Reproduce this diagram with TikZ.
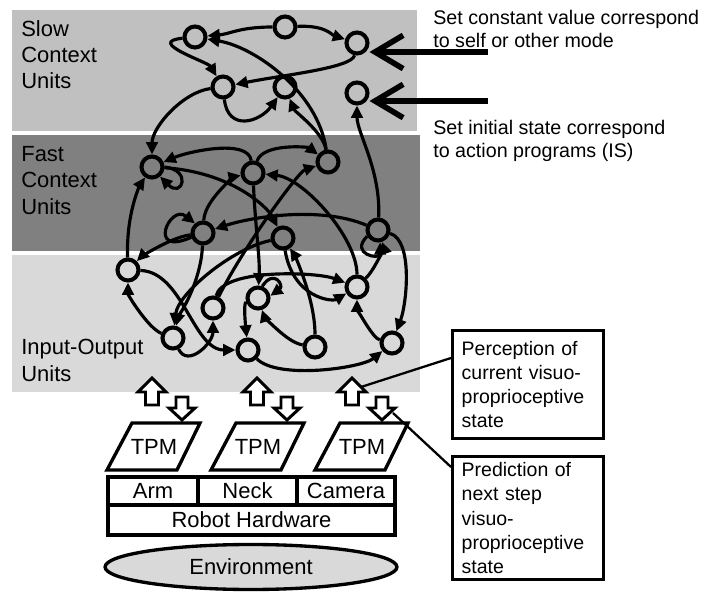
\documentclass[tikz,border=0pt]{standalone}
\usepackage{fontspec}
\setmainfont{Liberation Sans}
\usetikzlibrary{arrows.meta,shapes.geometric,calc}

\definecolor{slowgray}{HTML}{C0C0C0}
\definecolor{fastgray}{HTML}{808080}
\definecolor{iogray}{HTML}{D9D9D9}

\tikzset{
  unit/.style={circle,draw,line width=2.3pt,minimum size=0.42cm,inner sep=0pt},
  link/.style={line width=1.8pt,-{Triangle[length=7pt,width=6.5pt]}},
  layername/.style={anchor=north west,inner sep=0pt,align=left,font=\fontsize{12.5}{15}\selectfont},
  hwbox/.style={draw,line width=1.9pt,inner sep=0pt,minimum height=0.56cm,font=\fontsize{12.5}{15}\selectfont},
  tpmbox/.style={draw,fill=white,line width=1.9pt,line join=miter},
  tpmtext/.style={inner sep=0pt,font=\fontsize{12.5}{15}\selectfont},
  note/.style={draw,line width=1.9pt,anchor=north west,align=left,inner xsep=0.18cm,
    text width=2.66cm,font=\fontsize{11.1}{13.8}\selectfont},
  setnote/.style={anchor=north west,inner sep=0pt,align=left,font=\fontsize{11.2}{13}\selectfont},
  setarrow/.style={line width=3.2pt,-{Straight Barb[length=16pt,width=19pt]}},
  blockarrow/.style={draw,fill=white,line width=1.7pt,line join=miter},
  pointer/.style={line width=1.3pt}
}

\begin{document}
\begin{tikzpicture}[x=0.02cm,y=-0.02cm]
\useasboundingbox (0,0) rectangle (703,594);

% layers
\fill[slowgray] (12,10) rectangle (417,131);
\fill[fastgray] (12,135) rectangle (420,251);
\fill[iogray] (12,255) rectangle (420,392);
\node[layername] (slowname) at (21,20) {Slow\\Context\\Units};
\node[layername] (fastname) at (21,146) {Fast\\Context\\Units};
\node[layername] (ioname) at (21,339) {Input-Output\\Units};

% units
\node[unit] (S1) at (195,37) {};
\node[unit] (S2) at (285,27) {};
\node[unit] (S3) at (357,43) {};
\node[unit] (S4) at (223,87) {};
\node[unit] (S5) at (285,87) {};
\node[unit] (S6) at (357,93) {};
\node[unit] (F1) at (152,167) {};
\node[unit] (F2) at (253,173) {};
\node[unit] (F3) at (328,162) {};
\node[unit] (F4) at (203,233) {};
\node[unit] (F5) at (283,238) {};
\node[unit] (F6) at (378,230) {};
\node[unit] (I1) at (128,270) {};
\node[unit] (I2) at (173,338) {};
\node[unit] (I3) at (213,308) {};
\node[unit] (I4) at (248,350) {};
\node[unit] (I5) at (258,298) {};
\node[unit] (I6) at (315,347) {};
\node[unit] (I7) at (357,287) {};
\node[unit] (I8) at (392,343) {};

% slow connections
\draw[link] (S2) .. controls +(-45,0) and +(35,-3) .. (S1);
\draw[link] (S2) .. controls +(40,-2) and +(-25,-8) .. (S3);
\draw[link] (S3) .. controls +(-5,25) and +(60,-12) .. (S4);
\draw[link] (S1) .. controls +(-50,5) and +(-15,-25) .. (S4);
\draw[link] (F3) .. controls +(-10,-70) and +(60,10) .. (S1);
\draw[link] (S4) .. controls +(5,45) and +(-25,35) .. (S5);
\draw[link] (F3) .. controls +(-5,-30) and +(10,25) .. (S5);
\draw[link] (F6) .. controls +(3,-60) and +(0,40) .. (S6);
\draw[link] (S4) .. controls +(-40,5) and +(0,-40) .. (F1);

% fast connections
\draw[link] (F2) .. controls +(-5,-35) and +(35,-15) .. (F1);
\draw[link] (F1.east) .. controls +(28,3) and +(22,22) .. (F1.-50);
\draw[link] (I1) .. controls +(-2,-60) and +(-10,15) .. (F1);
\draw[link] (F1) .. controls +(80,5) and +(-15,-30) .. (F5);
\draw[link] (F4.200) .. controls +(-45,20) and +(-25,-20) .. (F4.130);
\draw[link] (F4) .. controls +(2,-35) and +(-15,3) .. (F2);
\draw[link] (F6) .. controls +(-60,-25) and +(45,-15) .. (F4);
\draw[link] (F4) .. controls +(-35,5) and +(10,-10) .. (I1);
\draw[link] (F2) .. controls +(10,-30) and +(-20,-15) .. (F3);
\draw[link] (F6.210) .. controls +(-18,18) and +(0,18) .. (F6.280);
\draw[link] (I7) .. controls +(20,-20) and +(5,15) .. (F6);
\draw[link] (F6) .. controls +(35,10) and +(15,-40) .. (I8);
\draw[link] (I7) .. controls +(0,-50) and +(50,5) .. (F2);
\draw[link] (I6) .. controls +(0,-50) and +(10,15) .. (F5);
\draw[link] (I3) .. controls +(30,-60) and +(-30,10) .. (F3);

% input-output connections
\draw[link] (I1) .. controls +(55,2) and +(-55,0) .. (I4);
\draw[link] (I2) .. controls +(-25,-10) and +(0,25) .. (I1);
\draw[link] (F5) .. controls +(-50,10) and +(5,-45) .. (I2);
\draw[link] (F4) .. controls +(-2,50) and +(5,-20) .. (I2);
\draw[link] (I2) .. controls +(15,30) and +(0,35) .. (I3);
\draw[link] (I3) .. controls +(10,-40) and +(-40,-15) .. (I7);
\draw[link] (I5.70) .. controls +(12,-18) and +(14,-10) .. (I5.10);
\draw[link] (I5) .. controls +(-15,5) and +(-2,-20) .. (I4);
\draw[link] (F2) .. controls +(2,50) and +(2,-40) .. (I5);
\draw[link] (I6) .. controls +(-30,-5) and +(5,15) .. (I5);
\draw[link] (I4) .. controls +(30,30) and +(-30,25) .. (I8);
\draw[link] (I8) .. controls +(-20,-5) and +(0,20) .. (I7);
\draw[link] (F5) .. controls +(10,60) and +(-25,15) .. (I7);

% external inputs
\node[setnote] (modetext) at (433,10) {Set constant value correspond\\to self or other mode};
\node[setnote] (istext) at (433,120) {Set initial state correspond\\to action programs (IS)};
\coordinate (cin1) at (488,52);
\coordinate (cin2) at (488,101);
\draw[setarrow] (cin1) -- (cin1 -| S3.east);
\draw[setarrow] (cin2) -- (cin2 -| S6.east);

% robot side
\foreach \c/\n in {152/1,257/2,352/3} {
  \draw[blockarrow] (\c,378) -- (\c+14,392) -- (\c+6.5,392) -- (\c+6.5,405)
    -- (\c-6.5,405) -- (\c-6.5,392) -- (\c-14,392) -- cycle;
  \draw[blockarrow] (\c+24,397) -- (\c+36,397) -- (\c+36,408) -- (\c+43,408)
    -- (\c+30,420) -- (\c+17,408) -- (\c+24,408) -- cycle;
  \coordinate (up\n) at (\c,378);
  \coordinate (dn\n) at (\c+30,420);
}
\foreach \c/\n in {153/1,257/2,361/3} {
  \draw[tpmbox] (\c-46,470) -- (\c+24,470) -- (\c+47,423) -- (\c-21,423) -- cycle;
  \node[tpmtext] (tpm\n) at (\c+1,447) {TPM};
}
\node[hwbox,minimum width=1.8cm] (arm) at (153,491) {Arm};
\node[hwbox,minimum width=1.98cm] (neck) at (247.5,491) {Neck};
\node[hwbox,minimum width=1.96cm] (camera) at (346,491) {Camera};
\node[hwbox,minimum width=5.74cm,minimum height=0.6cm] (robot) at (251.5,520) {Robot Hardware};
\node[ellipse,draw,fill=iogray,line width=1.9pt,minimum width=5.84cm,minimum height=0.9cm,
  font=\fontsize{12.5}{15}\selectfont] (env) at (251,567) {Environment};

% notes
\node[note,minimum height=2.16cm] (perc) at (451,329)
  {Perception of\\current visuo-\\proprioceptive\\state};
\node[note,minimum height=2.44cm] (pred) at (451,455)
  {Prediction of\\next step\\visuo-\\proprioceptive\\state};
\draw[pointer] ($(perc.north west)+(0,29)$) -- ($(up3)+(9,9)$);
\draw[pointer] ($(pred.north west)+(0,12)$) -- ($(dn3)+(11,-7)$);
\end{tikzpicture}
\end{document}
